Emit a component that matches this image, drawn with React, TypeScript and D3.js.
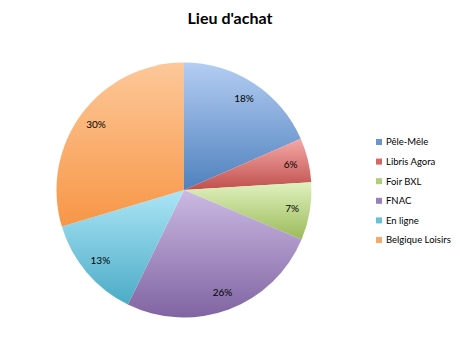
import React from "react";
import * as d3 from "d3";

const categories = ["Pêle-Mêle", "Libris Agora", "Foir BXL", "FNAC", "En ligne", "Belgique Loisirs"];
const values = [18.4, 5.6, 7.3, 25.9, 13.1, 29.6];
const lightColors = ["#b4cdf3", "#f4a9a8", "#e0f1bf", "#cbbae3", "#ace5f6", "#fdc89a"];
const darkColors = ["#4f81bd", "#c0504d", "#9bbb59", "#8064a2", "#4bacc6", "#f79646"];
const legendColors = ["#6a94cf", "#d66663", "#b0cd7a", "#9a80bb", "#68c0d8", "#f9a86a"];
const title = "Lieu d'achat";

const W = 460, H = 342;
const cx = 184, cy = 190, R = 127.5;

export default function App() {
  React.useEffect(() => { document.body.style.margin = "0"; }, []);
  const total = d3.sum(values);
  const pie = d3.pie<number>().sort(null).value((d) => d)(values);
  const arc = d3.arc<d3.PieArcDatum<number>>().innerRadius(0).outerRadius(R);
  const labelArc = d3.arc<d3.PieArcDatum<number>>().innerRadius(R * 0.86).outerRadius(R * 0.86);
  const legendY = d3.scalePoint<number>().domain(d3.range(categories.length)).range([142, 240]);
  const font = "Lato, 'Open Sans', sans-serif";
  return (
    <svg width={W} height={H} style={{ display: "block", background: "#fff" }}>
      <defs>
        {categories.map((c, i) => (
          <linearGradient key={c} id={`g${i}`} x1="0" y1="0" x2="0" y2="1">
            <stop offset="0%" stopColor={lightColors[i]} />
            <stop offset="100%" stopColor={darkColors[i]} />
          </linearGradient>
        ))}
      </defs>
      <text x={230} y={24} textAnchor="middle" fontFamily={font} fontWeight="bold" fontSize={16} fill="#000">{title}</text>
      <g transform={`translate(${cx},${cy})`}>
        {pie.map((p, i) => (
          <path key={i} d={arc(p) || ""} fill={`url(#g${i})`} />
        ))}
        {pie.map((p, i) => {
          const [x, y] = labelArc.centroid(p);
          return (
            <text key={"l" + i} x={x} y={y} dy="0.35em" textAnchor="middle" fontFamily={font} fontSize={10} fill="#000">
              {Math.round((p.value / total) * 100)}%
            </text>
          );
        })}
      </g>
      {categories.map((c, i) => (
        <g key={"lg" + i} transform={`translate(376,${legendY(i)})`}>
          <rect x={0} y={-3} width={6} height={6} fill={legendColors[i]} />
          <text x={10} y={0} dy="0.35em" fontFamily={font} fontSize={9.5} fill="#000">{c}</text>
        </g>
      ))}
    </svg>
  );
}
